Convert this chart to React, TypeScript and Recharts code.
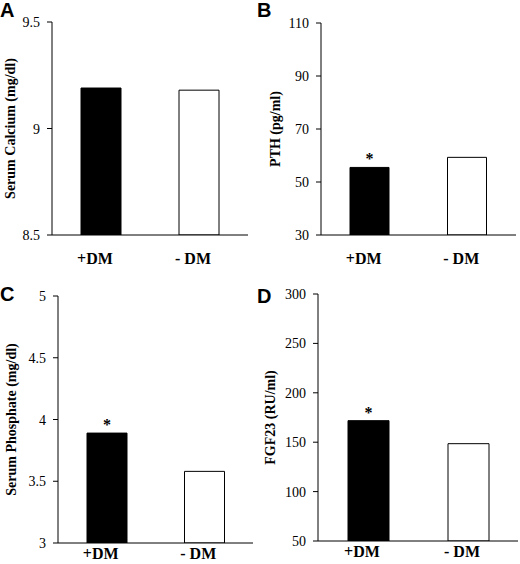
import { BarChart, Bar, XAxis, YAxis, Cell, LabelList } from "recharts";

// groups on the x axis
const groups = ["+DM", "- DM"];

// panel values
const calcium = [9.19, 9.18];
const pth = [55.5, 59.3];
const phosphate = [3.89, 3.58];
const fgf23 = [171.8, 148.5];

// significance marks above the bars
const calciumSig = ["", ""];
const pthSig = ["*", ""];
const phosphateSig = ["*", ""];
const fgf23Sig = ["*", ""];

// y ticks
const calciumTicks = [8.5, 9, 9.5];
const pthTicks = [30, 50, 70, 90, 110];
const phosphateTicks = [3, 3.5, 4, 4.5, 5];
const fgf23Ticks = [50, 100, 150, 200, 250, 300];

const FILLS = ["#000000", "#ffffff"];
const SERIF = "Liberation Serif";

// x tick: bold serif, a bit left of the bar centre like the original
const groupTick = ({ x, y, payload }) => (
  <text
    x={x - 6}
    y={y + 12}
    textAnchor="middle"
    fontFamily={SERIF}
    fontWeight="bold"
    fontSize={16}
    fill="#000"
    style={{ fontFamily: SERIF }}
  >
    {payload.value}
  </text>
);

const valueTick = ({ x, y, payload }) => (
  <text x={x} y={y + 5} textAnchor="end" fontFamily={SERIF} fontSize={14} fill="#000" style={{ fontFamily: SERIF }}>
    {payload.value}
  </text>
);

function Panel({ letter, letterY, left, top, height, values, sig, ticks, yLabel, margin, yWidth, xHeight, xMargin, barSize, labelX }) {
  const data = groups.map((g, i) => ({ group: g, value: values[i], sig: sig[i] }));
  return (
    <div style={{ position: "absolute", left, top, width: 260, height, fontFamily: SERIF }}>
      <BarChart width={260} height={height} data={data} margin={margin} barCategoryGap={0} style={{ fontFamily: SERIF }}>
        <XAxis
          dataKey="group"
          tickLine={false}
          tickSize={0}
          tickMargin={xMargin}
          height={xHeight}
          axisLine={{ stroke: "#000", strokeWidth: 1 }}
          tick={groupTick}
        />
        <YAxis
          type="number"
          domain={[ticks[0], ticks[ticks.length - 1]]}
          ticks={ticks}
          width={yWidth}
          tickSize={5}
          tickMargin={7}
          allowDataOverflow
          axisLine={{ stroke: "#000", strokeWidth: 1 }}
          tickLine={{ stroke: "#000" }}
          tick={valueTick}
          label={{
            value: yLabel,
            angle: -90,
            position: "insideLeft",
            offset: labelX,
            style: { textAnchor: "middle", fontFamily: SERIF, fontWeight: "bold", fontSize: 14, fill: "#000" },
          }}
        />
        <Bar dataKey="value" barSize={barSize} stroke="#000" strokeWidth={1} isAnimationActive={false}>
          {data.map((d, i) => (
            <Cell key={`cell-${i}`} fill={FILLS[i % FILLS.length]} />
          ))}
          <LabelList dataKey="sig" position="top" offset={3} style={{ fontFamily: SERIF, fontSize: 16, fontWeight: "bold", fill: "#000" }} />
        </Bar>
      </BarChart>
      <div
        style={{
          position: "absolute",
          left: letter === "A" || letter === "C" ? 0 : -3,
          top: letterY,
          fontFamily: "Liberation Sans",
          fontWeight: "bold",
          fontSize: 20,
          lineHeight: "20px",
        }}
      >
        {letter}
      </div>
    </div>
  );
}

export default function App() {
  return (
    <div style={{ position: "absolute", left: 0, top: 0, width: 520, height: 564, background: "#fff" }}>
      <Panel
        letter="A"
        letterY={0}
        left={0}
        top={0}
        height={280}
        values={calcium}
        sig={calciumSig}
        ticks={calciumTicks}
        yLabel="Serum Calcium (mg/dl)"
        margin={{ top: 22, right: 12, bottom: 15, left: 0 }}
        yWidth={52}
        xHeight={30}
        xMargin={17}
        barSize={40}
        labelX={10}
      />
      <Panel
        letter="B"
        letterY={0}
        left={260}
        top={0}
        height={280}
        values={pth}
        sig={pthSig}
        ticks={pthTicks}
        yLabel="PTH (pg/ml)"
        margin={{ top: 23, right: 4, bottom: 15, left: 0 }}
        yWidth={61}
        xHeight={30}
        xMargin={17}
        barSize={39}
        labelX={15}
      />
      <Panel
        letter="C"
        letterY={4}
        left={0}
        top={280}
        height={284}
        values={phosphate}
        sig={phosphateSig}
        ticks={phosphateTicks}
        yLabel="Serum Phosphate (mg/dl)"
        margin={{ top: 16, right: 7, bottom: 1, left: 0 }}
        yWidth={58}
        xHeight={20}
        xMargin={4}
        barSize={40}
        labelX={11}
      />
      <Panel
        letter="D"
        letterY={6}
        left={260}
        top={280}
        height={284}
        values={fgf23}
        sig={fgf23Sig}
        ticks={fgf23Ticks}
        yLabel="FGF23 (RU/ml)"
        margin={{ top: 14, right: 2, bottom: 3, left: 0 }}
        yWidth={58}
        xHeight={20}
        xMargin={4}
        barSize={41}
        labelX={10}
      />
    </div>
  );
}
